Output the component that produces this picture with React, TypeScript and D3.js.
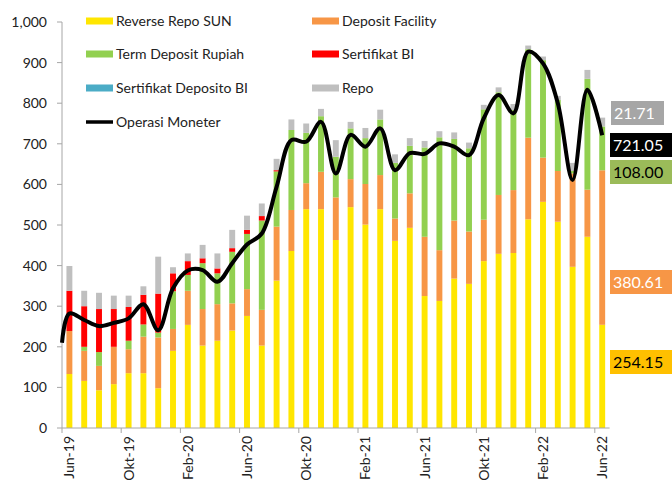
import * as d3 from "d3";

const months = [
  "Jun-19", "Jul-19", "Agu-19", "Sep-19", "Okt-19", "Nov-19", "Des-19",
  "Jan-20", "Feb-20", "Mar-20", "Apr-20", "Mei-20", "Jun-20", "Jul-20", "Agu-20", "Sep-20", "Okt-20", "Nov-20", "Des-20",
  "Jan-21", "Feb-21", "Mar-21", "Apr-21", "Mei-21", "Jun-21", "Jul-21", "Agu-21", "Sep-21", "Okt-21", "Nov-21", "Des-21",
  "Jan-22", "Feb-22", "Mar-22", "Apr-22", "Mei-22", "Jun-22",
];

const reverseRepoSun = [
  133, 116, 93, 108, 135, 135, 98, 190, 254, 203, 215, 240, 276, 203, 363, 436, 539, 539, 463,
  544, 501, 539, 461, 493, 325, 313, 368, 355, 411, 429, 431, 514, 557, 508, 397, 471, 254.15,
];
const depositFacility = [
  106, 74, 60, 92, 59, 90, 125, 54, 84, 90, 90, 67, 66, 88, 133, 101, 64, 92, 105,
  69, 100, 84, 55, 85, 146, 125, 143, 129, 102, 145, 155, 201, 109, 125, 230, 116, 380.61,
];
const termDepositRupiah = [
  0, 10, 34, 0, 21, 30, 12, 93, 39, 113, 76, 127, 136, 220, 136, 197, 124, 137, 100,
  125, 113, 137, 137, 117, 220, 278, 201, 205, 272, 253, 197, 218, 240, 175, 6, 273, 108.0,
];
const sertifikatBI = [
  99, 100, 106, 93, 83, 73, 96, 44, 34, 12, 12, 9, 10, 11, 3, 0, 0, 0, 0,
  0, 0, 0, 0, 0, 0, 0, 0, 0, 0, 0, 0, 0, 0, 0, 0, 0, 0,
];
const sertifikatDepositoBI = months.map(() => 0);
const repo = [
  61, 38, 40, 33, 28, 21, 91, 15, 19, 33, 37, 45, 35, 31, 28, 26, 23, 18, 41,
  16, 25, 24, 21, 19, 16, 15, 16, 14, 11, 12, 15, 9, 9, 10, 20, 22, 21.71,
];
const operasiMoneter = [
  282, 266, 251, 259, 270, 305, 241, 344, 388, 389, 360, 406, 452, 479, 594, 709, 705, 754, 627,
  722, 693, 738, 635, 677, 675, 701, 693, 672, 763, 820, 775, 927, 898, 800, 611, 833, 721.05,
];
const operasiMoneterLead = 210;

const yTicks = [0, 100, 200, 300, 400, 500, 600, 700, 800, 900, 1000];
const labelEvery = 4;

const series = [
  { key: "rrs", name: "Reverse Repo SUN", color: "#FFE600", values: reverseRepoSun },
  { key: "df", name: "Deposit Facility", color: "#F79646", values: depositFacility },
  { key: "tdr", name: "Term Deposit Rupiah", color: "#92D050", values: termDepositRupiah },
  { key: "sbi", name: "Sertifikat BI", color: "#FF0000", values: sertifikatBI },
  { key: "sdbi", name: "Sertifikat Deposito BI", color: "#4BACC6", values: sertifikatDepositoBI },
  { key: "repo", name: "Repo", color: "#BFBFBF", values: repo },
];

const endLabels = [
  { text: "21.71", bg: "#A6A6A6", fg: "#FFFFFF", y: 113, x0: 611, x1: 664 },
  { text: "721.05", bg: "#000000", fg: "#FFFFFF", y: 145, x0: 610, x1: 672 },
  { text: "108.00", bg: "#9BBB59", fg: "#000000", y: 172, x0: 610, x1: 672 },
  { text: "380.61", bg: "#F79646", fg: "#FFFFFF", y: 282, x0: 610, x1: 672 },
  { text: "254.15", bg: "#FFC000", fg: "#000000", y: 362, x0: 610, x1: 672 },
];

const W = 672;
const H = 482;
const left = 62;
const right = 609.6;
const top = 22;
const bottom = 428;
const FONT = "Lato, 'Open Sans', sans-serif";

export default function App() {
  const x = d3.scaleBand<string>().domain(months).range([left, right]).paddingInner(0.6).paddingOuter(0.3);
  const band = d3.scaleBand<string>().domain(months).range([left, right]);
  const y = d3.scaleLinear().domain([0, 1000]).range([bottom, top]);

  const table = months.map((m, i) => {
    const row: Record<string, number | string> = { month: m };
    series.forEach((s) => (row[s.key] = s.values[i]));
    return row;
  });
  const stacked = d3.stack<Record<string, number | string>>().keys(series.map((s) => s.key))(table as any);

  const linePts: [number, number][] = [
    [left, y(operasiMoneterLead)],
    ...operasiMoneter.map((v, i) => [(band(months[i]) ?? 0) + band.bandwidth() / 2, y(v)] as [number, number]),
  ];
  const linePath = d3.line().curve(d3.curveCatmullRom.alpha(0.5))(linePts) ?? "";

  const legendLeft = [series[0], series[2], series[4]];
  const legendRight = [series[1], series[3], series[5]];
  const legendRows = [21, 54, 88];

  return (
    <svg width={W} height={H} style={{ position: "absolute", left: 0, top: 0, background: "#fff" }} fontFamily={FONT}>
      {/* bars */}
      {stacked.map((layer, si) => (
        <g key={series[si].key} fill={series[si].color}>
          {layer.map((d, i) =>
            d[1] - d[0] > 0 ? (
              <rect
                key={i}
                x={x(months[i])}
                width={x.bandwidth()}
                y={y(d[1])}
                height={y(d[0]) - y(d[1])}
              />
            ) : null
          )}
        </g>
      ))}

      {/* axes */}
      <line x1={left} x2={left} y1={top} y2={bottom} stroke="#A6A6A6" strokeWidth={1} />
      {yTicks.map((t) => (
        <g key={t}>
          <line x1={left - 5} x2={left} y1={y(t)} y2={y(t)} stroke="#A6A6A6" />
          <text x={left - 15} y={y(t)} dy="0.35em" textAnchor="end" fontSize={14} fill="#222">
            {d3.format(",")(t)}
          </text>
        </g>
      ))}
      <line x1={left} x2={right} y1={bottom} y2={bottom} stroke="#A6A6A6" strokeWidth={1} />
      {months.map((m, i) =>
        i % labelEvery === 0 ? (
          <g key={m}>
            <line x1={band(m)} x2={band(m)} y1={bottom} y2={bottom + 5} stroke="#A6A6A6" />
            <text
              transform={`translate(${(band(m) ?? 0) + band.bandwidth() / 2},${bottom + 8}) rotate(-90)`}
              dy="0.35em"
              textAnchor="end"
              fontSize={14}
              fill="#222"
            >
              {m}
            </text>
          </g>
        ) : null
      )}

      {/* line */}
      <path d={linePath} fill="none" stroke="#000" strokeWidth={4} strokeLinejoin="round" />

      {/* legend */}
      {legendLeft.map((s, i) => (
        <g key={s.key}>
          <rect x={86} y={legendRows[i] - 3.5} width={27} height={7} fill={s.color} />
          <text x={116} y={legendRows[i]} dy="0.35em" fontSize={14} fill="#222">{s.name}</text>
        </g>
      ))}
      {legendRight.map((s, i) => (
        <g key={s.key}>
          <rect x={312} y={legendRows[i] - 3.5} width={27} height={7} fill={s.color} />
          <text x={342} y={legendRows[i]} dy="0.35em" fontSize={14} fill="#222">{s.name}</text>
        </g>
      ))}
      <line x1={86} x2={113} y1={122} y2={122} stroke="#000" strokeWidth={3.5} />
      <text x={116} y={122} dy="0.35em" fontSize={14} fill="#222">Operasi Moneter</text>

      {/* end labels */}
      {endLabels.map((l) => (
        <g key={l.text}>
          <rect x={l.x0} y={l.y - 12} width={l.x1 - l.x0} height={24} fill={l.bg} />
          <text x={l.x0 + 3} y={l.y} dy="0.36em" fontSize={16} fill={l.fg}>{l.text}</text>
        </g>
      ))}
    </svg>
  );
}
